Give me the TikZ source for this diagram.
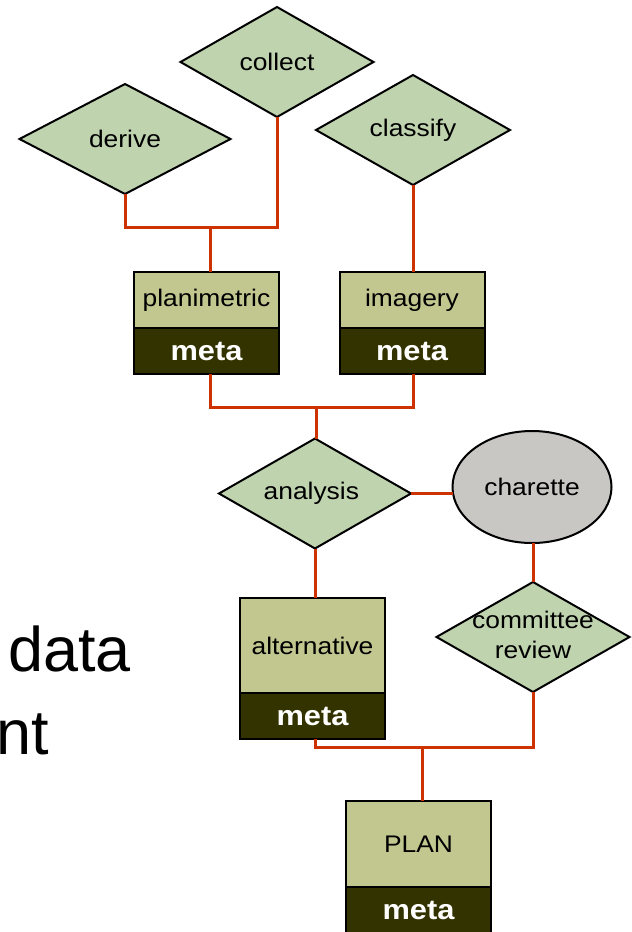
\documentclass[tikz,border=0pt]{standalone}
\usepackage{fontspec}
\setmainfont{Liberation Sans}[FakeStretch=1.1]
\newfontfamily\slidefont{Liberation Sans}
\usetikzlibrary{calc,positioning,shapes.geometric}

\definecolor{dmGreen}{RGB}{191,211,175}
\definecolor{boxOlive}{RGB}{194,198,143}
\definecolor{metaDark}{RGB}{51,51,0}
\definecolor{ellGrey}{RGB}{200,199,195}
\definecolor{linkRed}{RGB}{204,51,0}

\begin{document}
\begin{tikzpicture}[x=1pt,y=-1pt,
    dm/.style={diamond,draw=black,line width=2pt,fill=dmGreen,inner sep=0pt,outer sep=0pt,
        minimum width=#1,minimum height=110,font=\fontsize{24}{30}\selectfont},
    boxtop/.style={rectangle,draw=black,line width=2pt,fill=boxOlive,inner sep=0pt,outer sep=0pt,
        minimum width=145,font=\fontsize{24}{30}\selectfont},
    metabox/.style={rectangle,draw=black,line width=2pt,fill=metaDark,text=white,inner sep=0pt,
        outer sep=0pt,minimum width=145,minimum height=46,font=\bfseries\fontsize{28}{34}\selectfont},
    link/.style={draw=linkRed,line width=3pt}]
\useasboundingbox (0,0) rectangle (632,932);

\coordinate (cJoinAPt) at (210,227);
\coordinate (cJoinBPt) at (316,407);
\coordinate (cJoinCPt) at (422,747);

\foreach \n/\p/\w/\t in 
{nDerive/{125,139}/211/derive,
    nCollect/{277,62}/193/collect,
    nClassify/{413,130}/194/classify,
    nAnalysis/{315,493.5}/192/analysis
}
{
    \node[dm=\w] (\n) at (\p) {\makebox[0pt]{\t}};
};

\node[dm=193] (nCommittee) at (533,637)
    {\makebox[0pt]{\begin{tabular}{@{}c@{}}committee\\review\end{tabular}}};
\node[ellipse,draw=black,line width=2pt,fill=ellGrey,inner sep=0pt,outer sep=0pt,
    minimum width=159,minimum height=112,font=\fontsize{24}{30}\selectfont]
    (nCharette) at (532,487) {charette};

\foreach \b/\m/\p/\h/\t in 
{bPlanim/mPlanim/{206.5,300}/56/planimetric,
    bImagery/mImagery/{412,300}/56/imagery,
    bAltern/mAltern/{312.5,645.5}/95/alternative,
    bPlan/mPlan/{418.5,844}/86/PLAN
}
{
    \node[boxtop,minimum height=\h] (\b) at (\p) {\t};
    \node[metabox,below=0pt of \b] (\m) {meta};
};

\draw[link] (nDerive.south) |- (nCollect.south |- cJoinAPt) -- (nCollect.south);
\draw[link] (cJoinAPt) -- (cJoinAPt |- bPlanim.north);
\draw[link] (nClassify.south) -- (nClassify.south |- bImagery.north);
\draw[link] (cJoinAPt |- mPlanim.south) |- (nClassify.south |- cJoinBPt) -- (nClassify.south |- mImagery.south);
\draw[link] (cJoinBPt) -- (cJoinBPt |- nAnalysis.north);
\draw[link] (nAnalysis.east) -- (nAnalysis.east -| nCharette.west);
\draw[link] (nCommittee.north |- nCharette.south) -- (nCommittee.north);
\draw[link] (nAnalysis.south) -- (nAnalysis.south |- bAltern.north);
\draw[link] (nAnalysis.south |- mAltern.south) |- (nCommittee.south |- cJoinCPt) -- (nCommittee.south);
\draw[link] (cJoinCPt) -- (cJoinCPt |- bPlan.north);

\node[anchor=base west,inner sep=0pt,font=\slidefont\fontsize{63}{70}\selectfont] (tData) at (8,671) {data};
\node[anchor=base west,inner sep=0pt,font=\slidefont\fontsize{63}{70}\selectfont] (tNt) at (-4,754) {nt};

\end{tikzpicture}
\end{document}
